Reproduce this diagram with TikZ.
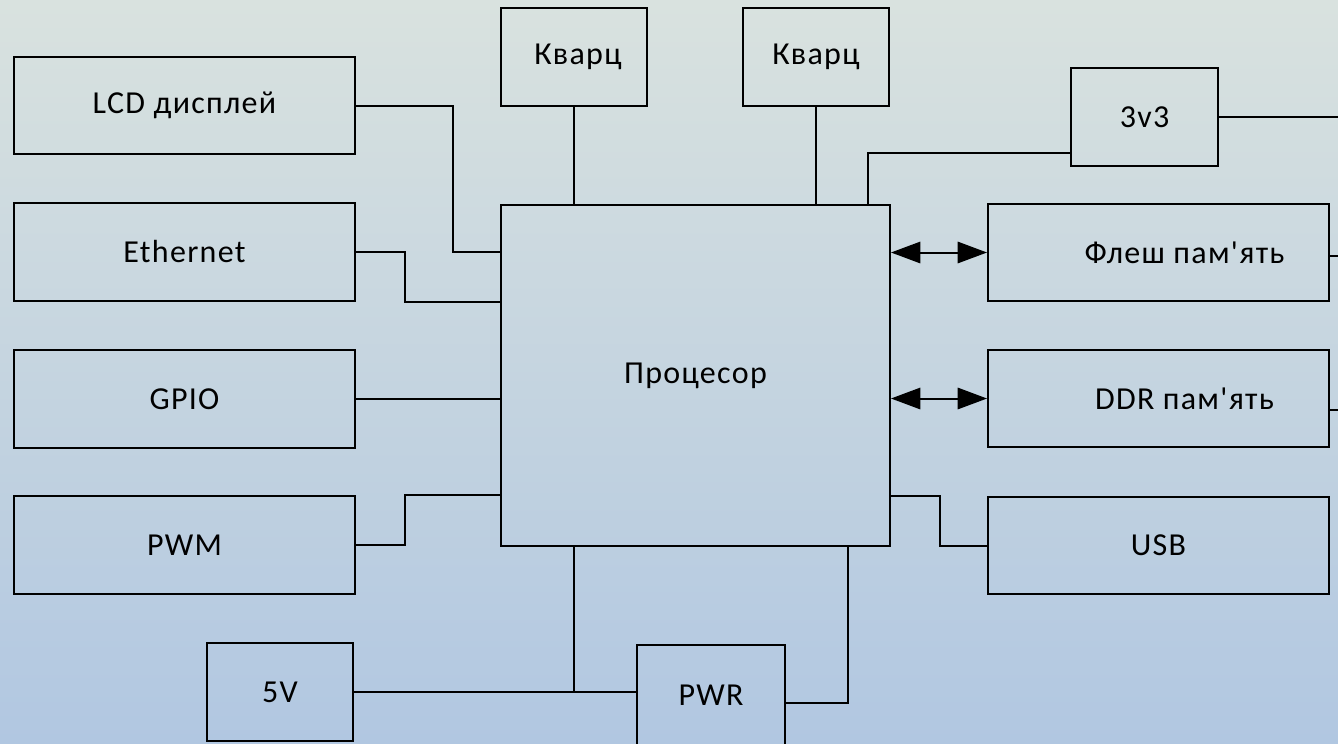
\documentclass[tikz,border=0pt]{standalone}
\usepackage{fontspec}
\setmainfont{Carlito}[LetterSpace=4, Ligatures=TeXOff]
\usetikzlibrary{arrows.meta}
\definecolor{bgtop}{HTML}{D9E2DF}
\definecolor{bgbot}{HTML}{B1C7E1}
\tikzset{
  box/.style={draw, line width=1.5pt, rectangle, inner sep=0pt, font=\fontsize{24}{28}\selectfont},
  wide/.style={box, minimum width=255.75pt, minimum height=73pt},
  small/.style={box, minimum width=109.5pt, minimum height=73.5pt},
  wire/.style={line width=1.5pt},
  biarrow/.style={line width=1.5pt, {Triangle[length=22pt,width=16pt]}-{Triangle[length=22pt,width=16pt]}}
}
\begin{document}
\begin{tikzpicture}[x=0.75pt,y=-0.75pt]
\shade[top color=bgtop, bottom color=bgbot] (0,0) rectangle (1338,743);
\useasboundingbox (0,0) rectangle (1338,743);
\coordinate (edge) at (1345,0);
% left column
\node[wide] (lcd)  at (184.5,105.5) {LCD дисплей};
\node[wide] (eth)  at (184.5,252) {Ethernet};
\node[wide] (gpio) at (184.5,399) {GPIO};
\node[wide] (pwm)  at (184.5,545) {PWM};
% processor
\node[box, minimum width=291.75pt, minimum height=255.75pt] (cpu) at (695.5,375.5) {Процесор};
% top
\node[small] (q1) at (574,57) {\hspace*{6pt}Кварц};
\node[small] (q2) at (816,57) {Кварц};
\node[small, minimum width=110.25pt] (v33) at (1144.5,117) {3v3};
% right column
\node[wide] (flash) at (1158.5,252.5) {\hspace*{39pt}Флеш пам'ять};
\node[wide] (ddr)   at (1158.5,398.5) {\hspace*{39pt}DDR пам'ять};
\node[wide] (usb)   at (1158.5,545.5) {USB};
% bottom
\node[small] (v5)  at (280,692) {5V};
\node[small, minimum width=111pt, minimum height=75pt] (pwr) at (711,695) {PWR};
% left connectors
\draw[wire] (lcd.east) -- ++(97,0) |- (cpu.west |- eth.east);
\draw[wire] (eth.east) -- ++(49,0) |- (cpu.west |- eth.south);
\draw[wire] (gpio.east) -- (cpu.west |- gpio.east);
\draw[wire] (pwm.east) -- ++(49,0) |- (cpu.west |- pwm.north);
% top connectors
\draw[wire] (q1.south) -- (q1.south |- cpu.north);
\draw[wire] (q2.south) -- (q2.south |- cpu.north);
\draw[wire] ([yshift=10.5pt]v33.south west) -| (868,0 |- cpu.north);
\draw[wire] (v33.east) -- (v33.east -| edge);
% right connectors
\draw[biarrow] (cpu.east |- flash.west) -- (flash.west);
\draw[biarrow] (cpu.east |- ddr.west) -- (ddr.west);
\draw[wire] ([yshift=-2.25pt]flash.east) -- ([yshift=-2.25pt]flash.east -| edge);
\draw[wire] ([yshift=-8.6pt]ddr.east) -- ([yshift=-8.6pt]ddr.east -| edge);
\draw[wire] (cpu.east |- usb.north) -- ++(49,0) |- (usb.west);
% bottom connectors
\draw[wire] (cpu.south -| q1.south) -- (v5.east -| q1.south);
\draw[wire] (v5.east) -- (pwr.west |- v5.east);
\draw[wire] ([yshift=-6pt]pwr.east) -| (848,0 |- cpu.south);
\end{tikzpicture}
\end{document}
